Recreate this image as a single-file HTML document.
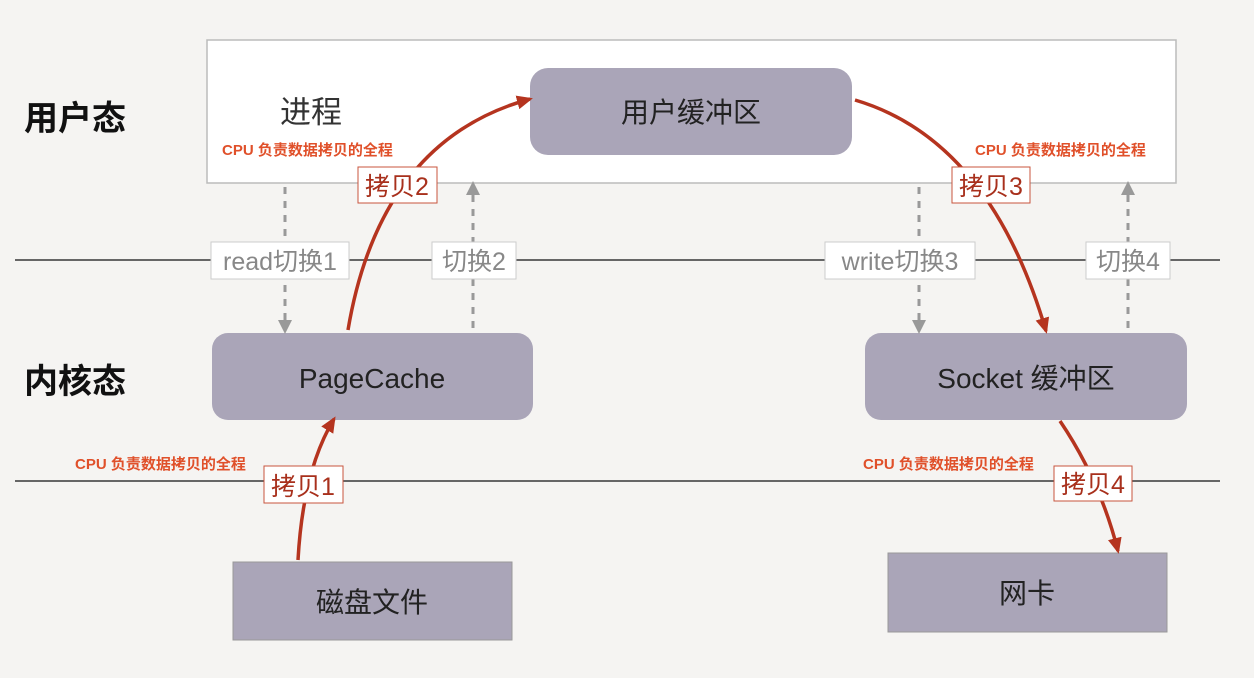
<!DOCTYPE html>
<html><head><meta charset="utf-8"><style>
html,body{margin:0;padding:0;background:#f5f4f2;}
svg{display:block;}
text{font-family:"Liberation Sans","Noto Sans CJK SC",sans-serif;}
</style></head><body>
<svg width="1254" height="678" viewBox="0 0 1254 678" xmlns="http://www.w3.org/2000/svg">
<defs>
<marker id="ra" markerWidth="16" markerHeight="16" refX="13" refY="8" orient="auto" markerUnits="userSpaceOnUse"><path d="M0,1 L16,8 L0,15 z" fill="#b5341f"/></marker>
<marker id="ga" markerWidth="14" markerHeight="14" refX="11" refY="7" orient="auto" markerUnits="userSpaceOnUse"><path d="M0,0 L14,7 L0,14 z" fill="#999"/></marker>
</defs>
<rect x="0" y="0" width="1254" height="678" fill="#f5f4f2"/>
<rect x="207" y="40" width="969" height="143" fill="#fff" stroke="#bbb" stroke-width="1.5"/>
<line x1="15" y1="260" x2="1220" y2="260" stroke="#666" stroke-width="2"/>
<line x1="15" y1="481" x2="1220" y2="481" stroke="#666" stroke-width="2"/>

<rect x="530" y="68" width="322" height="87" rx="18" fill="#aaa5b8"/>
<rect x="212" y="333" width="321" height="87" rx="16" fill="#aaa5b8"/>
<rect x="865" y="333" width="322" height="87" rx="16" fill="#aaa5b8"/>
<rect x="233" y="562" width="279" height="78" fill="#aaa5b8" stroke="#999" stroke-width="1"/>
<rect x="888" y="553" width="279" height="79" fill="#aaa5b8" stroke="#999" stroke-width="1"/>

<text x="691" y="122" font-size="28" text-anchor="middle" fill="#222">用户缓冲区</text>
<text x="372" y="388" font-size="28" text-anchor="middle" fill="#222">PageCache</text>
<text x="1026" y="388" font-size="28" text-anchor="middle" fill="#222">Socket 缓冲区</text>
<text x="372" y="612" font-size="28" text-anchor="middle" fill="#222">磁盘文件</text>
<text x="1027" y="603" font-size="28" text-anchor="middle" fill="#222">网卡</text>

<text x="24" y="130" font-size="34" font-weight="bold" fill="#111">用户态</text>
<text x="24" y="393" font-size="34" font-weight="bold" fill="#111">内核态</text>
<text x="280" y="123" font-size="31" fill="#333">进程</text>

<g font-size="15" font-weight="bold" fill="#e0502a">
<text x="222" y="155">CPU 负责数据拷贝的全程</text>
<text x="975" y="155">CPU 负责数据拷贝的全程</text>
<text x="75" y="469">CPU 负责数据拷贝的全程</text>
<text x="863" y="469">CPU 负责数据拷贝的全程</text>
</g>

<g stroke="#999" stroke-width="3" stroke-dasharray="7,7" fill="none">
<line x1="285" y1="187" x2="285" y2="331" marker-end="url(#ga)"/>
<line x1="473" y1="328" x2="473" y2="184" marker-end="url(#ga)"/>
<line x1="919" y1="187" x2="919" y2="331" marker-end="url(#ga)"/>
<line x1="1128" y1="328" x2="1128" y2="184" marker-end="url(#ga)"/>
</g>

<g stroke="#b5341f" stroke-width="3.5" fill="none">
<path d="M348,330 Q380,140 530,99" marker-end="url(#ra)"/>
<path d="M855,100 Q990,140 1046,331" marker-end="url(#ra)"/>
<path d="M298,560 Q303,470 334,419" marker-end="url(#ra)"/>
<path d="M1060,421 Q1100,480 1118,551" marker-end="url(#ra)"/>
</g>

<g font-size="25">
<rect x="211" y="242" width="138" height="37" fill="#fff" stroke="#ccc"/>
<text x="280" y="270" text-anchor="middle" fill="#888">read切换1</text>
<rect x="432" y="242" width="84" height="37" fill="#fff" stroke="#ccc"/>
<text x="474" y="270" text-anchor="middle" fill="#888">切换2</text>
<rect x="825" y="242" width="150" height="37" fill="#fff" stroke="#ccc"/>
<text x="900" y="270" text-anchor="middle" fill="#888">write切换3</text>
<rect x="1086" y="242" width="84" height="37" fill="#fff" stroke="#ccc"/>
<text x="1128" y="270" text-anchor="middle" fill="#888">切换4</text>

<rect x="358" y="167" width="79" height="36" fill="#fff" stroke="#c8553d"/>
<text x="397" y="195" text-anchor="middle" fill="#a8301c">拷贝2</text>
<rect x="952" y="167" width="78" height="36" fill="#fff" stroke="#c8553d"/>
<text x="991" y="195" text-anchor="middle" fill="#a8301c">拷贝3</text>
<rect x="264" y="466" width="79" height="37" fill="#fff" stroke="#c8553d"/>
<text x="303" y="495" text-anchor="middle" fill="#a8301c">拷贝1</text>
<rect x="1054" y="466" width="78" height="35" fill="#fff" stroke="#c8553d"/>
<text x="1093" y="493" text-anchor="middle" fill="#a8301c">拷贝4</text>
</g>
</svg>
</body></html>
